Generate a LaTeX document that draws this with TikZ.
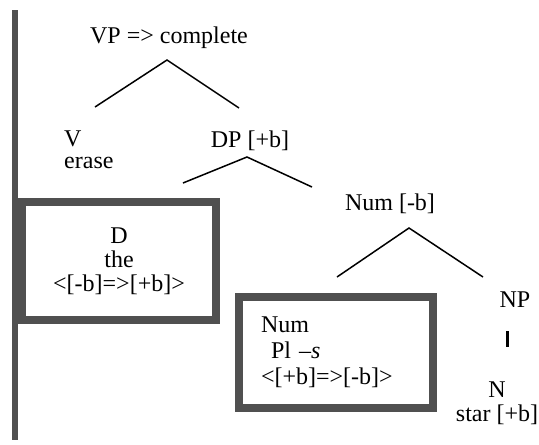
\documentclass[tikz,border=0pt]{standalone}
\usepackage{fontspec}
\setmainfont{Liberation Serif}
\usepackage{tikz}
\usetikzlibrary{positioning}
\definecolor{boxgray}{RGB}{80,80,80}

\begin{document}
\begin{tikzpicture}[x=1pt,y=-1pt,font=\fontsize{24}{24}\selectfont]
    \tikzstyle{label}=[inner sep=0pt]
    \tikzstyle{box}=[draw=boxgray, line width=8pt, inner sep=0pt, minimum width=194pt]
    \tikzstyle{branch}=[line width=1.5pt]
    \useasboundingbox (0,0) rectangle (539,445);

    \draw[boxgray, line width=6pt] (15,10) coordinate (barT) -- (15,440) coordinate (barB);

    \node[label,anchor=base west,align=left] (v) at (64,168) {V\\[-2pt]erase};
    \node[label,anchor=base] (vp) at (169,43) {VP => complete};
    \node[label,anchor=base] (dp) at (250,147) {DP [+b]};
    \node[label,anchor=base] (num) at (390,210) {Num [-b]};
    \node[label,anchor=base] (np) at (515,307) {NP};
    \node[label,anchor=base,align=center] (n) at (497,421) {N\\star [+b]};

    \node[box,minimum height=118pt,align=center] (boxD) at (119,261) {D\\the\\<[-b]=>[+b]>};
    \node[box,minimum height=111pt,text width=150pt,inner xsep=22pt,align=left] (boxNum) at (336,352)
        {Num\\[2pt]\hspace*{10pt}Pl --\textit{s}\\[2pt]<[+b]=>[-b]>};

    \coordinate (vpA) at (167,60);
    \coordinate (vpL) at (95,107);
    \coordinate (vpR) at (239,108);
    \coordinate (dpA) at (247,157);
    \coordinate (dpL) at (183,183);
    \coordinate (dpR) at (312,187);
    \coordinate (numA) at (409,228);
    \coordinate (numL) at (337,277);
    \coordinate (numR) at (483,277);
    \coordinate (npT) at (507,331);
    \coordinate (npB) at (507,347);

    \draw[branch] (vpL) -- (vpA) -- (vpR);
    \draw[branch] (dpL) -- (dpA) -- (dpR);
    \draw[branch] (numL) -- (numA) -- (numR);
    \draw[line width=3pt] (npT) -- (npB);
\end{tikzpicture}
\end{document}
